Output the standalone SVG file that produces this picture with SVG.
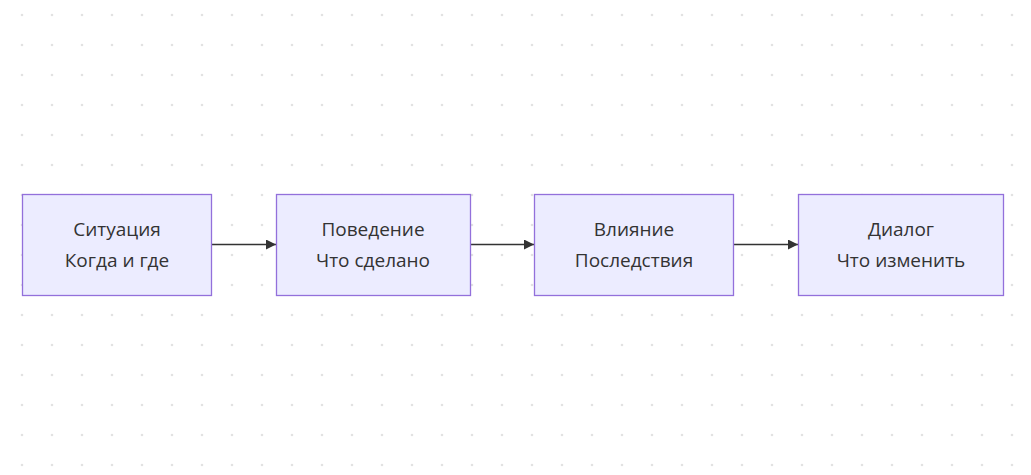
<svg xmlns="http://www.w3.org/2000/svg" width="1031" height="475" viewBox="0 0 1031 475">
<defs>
<pattern id="dots" x="7" y="30" width="30" height="30" patternUnits="userSpaceOnUse"><circle cx="15" cy="15" r="1.3" fill="#e2e2e2"/></pattern>
<marker id="arr" viewBox="0 0 10 10" refX="10" refY="5" markerWidth="10" markerHeight="10" markerUnits="userSpaceOnUse" orient="auto"><path d="M0,0 L10,5 L0,10 z" fill="#333"/></marker>
</defs>
<style>
.n rect{fill:#ececff;stroke:#9370db;stroke-width:1.3}
.n text{font-family:"Open Sans","DejaVu Sans",sans-serif;font-size:19px;fill:#333;text-anchor:middle}
.e path{stroke:#333;stroke-width:1.3;fill:none;marker-end:url(#arr)}
</style>
<rect width="1031" height="475" fill="#fff"/>
<rect width="1031" height="475" fill="url(#dots)"/>
<g class="e">
<path d="M211,244.5 H276"/>
<path d="M470,244.5 H534"/>
<path d="M733,244.5 H798"/>
</g>
<g id="n1" class="n"><rect x="22.5" y="194.5" width="189" height="101"/><text x="117" y="236">Ситуация</text><text x="117" y="267">Когда и где</text></g>
<g id="n2" class="n"><rect x="276.5" y="194.5" width="194" height="101"/><text x="373" y="236">Поведение</text><text x="373" y="267">Что сделано</text></g>
<g id="n3" class="n"><rect x="534.5" y="194.5" width="199" height="101"/><text x="634" y="236">Влияние</text><text x="634" y="267">Последствия</text></g>
<g id="n4" class="n"><rect x="798.5" y="194.5" width="205" height="101"/><text x="901" y="236">Диалог</text><text x="901" y="267">Что изменить</text></g>
</svg>
